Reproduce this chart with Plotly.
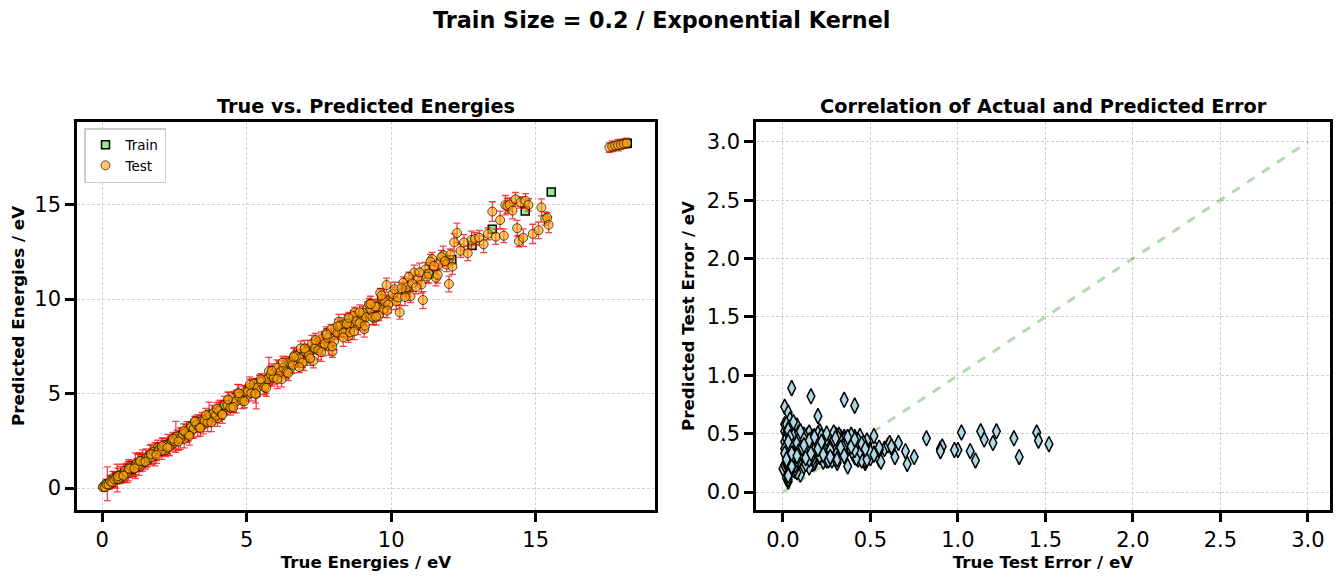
import plotly.graph_objects as go

# ---- data ----
train_true = [0.5, 1.2, 2.0, 2.8, 3.5, 4.3, 5.1, 5.9, 6.6, 7.4, 8.2, 9.0, 9.7,
              10.5, 11.3, 12.1, 12.8, 13.50, 14.64, 15.54, 18.17]
train_pred = [0.52, 1.19, 2.03, 2.78, 3.52, 4.28, 5.13, 5.88, 6.63, 7.38, 8.24, 8.97, 9.73,
              10.48, 11.33, 12.08, 12.83, 13.70, 14.66, 15.66, 18.25]

# test set, first sweep (whole range, incl. outliers and the high-energy cluster)
test_true_a = [
    0.04, 0.08, 0.12, 0.18, 0.25, 0.31, 0.38, 0.45, 0.52, 0.60, 0.68, 0.75, 0.83, 0.91, 0.98,
    1.06, 1.15, 1.23, 1.31, 1.40, 1.48, 1.57, 1.66, 1.74, 1.83, 1.92, 2.01, 2.10, 2.19, 2.28,
    2.37, 2.46, 2.55, 2.65, 2.74, 2.84, 2.93, 3.03, 3.12, 3.22, 3.31, 3.41, 3.50, 3.60, 3.70,
    3.80, 3.89, 3.99, 4.09, 4.19, 4.29, 4.39, 4.49, 4.59, 4.69, 4.80, 4.90,
    5.00, 5.11, 5.22, 5.33, 5.44, 5.55, 5.66, 5.77, 5.88, 5.99, 6.10, 6.21, 6.32, 6.43, 6.54,
    6.65, 6.76, 6.87, 6.98, 7.09, 7.20, 7.31, 7.42, 7.53, 7.64, 7.75, 7.86, 7.97, 8.08, 8.19,
    8.30, 8.41, 8.52, 8.63, 8.74, 8.85, 8.96, 9.07, 9.18, 9.29, 9.40, 9.51, 9.62, 9.73, 9.84, 9.95,
    10.05, 10.18, 10.30, 10.42, 10.55, 10.67, 10.80, 10.92, 11.05, 11.10, 11.18, 11.30, 11.42,
    11.55, 11.67, 11.80, 11.92, 12.00, 12.05, 12.18, 12.28, 12.40, 12.52, 12.65, 12.78, 12.90,
    13.05, 13.20, 13.35, 13.50, 13.62, 13.77, 13.90, 13.95, 14.02, 14.10, 14.20, 14.30, 14.36,
    14.42, 14.48, 14.57, 14.65, 14.75, 14.90, 15.10, 15.20, 15.33, 15.40, 15.45,
    17.55, 17.65, 17.75, 17.85, 17.95, 18.05, 18.15,
]
test_pred_a = [
    0.07, 0.06, 0.22, 0.23, 0.17, 0.33, 0.53, 0.41, 0.53, 0.67, 0.56, 0.79, 0.92, 0.90, 1.16,
    1.00, 1.18, 1.34, 1.16, 1.46, 1.48, 1.48, 1.79, 1.76, 1.79, 2.14, 1.98, 2.18, 2.00, 2.33,
    2.38, 2.35, 2.71, 2.63, 2.81, 2.59, 2.97, 3.15, 3.06, 3.50, 3.30, 3.50, 3.36, 3.63, 3.90,
    3.73, 3.99, 3.69, 4.15, 4.33, 4.26, 4.63, 4.32, 4.61, 5.02, 4.72, 5.01,
    4.88, 5.32, 5.26, 4.98, 5.59, 5.63, 5.44, 6.18, 5.90, 5.90, 6.37, 5.76, 6.43, 6.48, 6.36,
    7.01, 6.72, 7.39, 6.70, 7.22, 7.27, 6.73, 7.66, 7.54, 7.49, 8.19, 7.49, 7.22, 8.27, 8.81,
    8.24, 8.71, 8.04, 8.73, 9.29, 8.64, 8.99, 8.41, 9.53, 9.46, 9.00, 9.59, 10.33, 9.47, 10.74, 9.83,
    10.27, 9.87, 9.30, 10.87, 10.63, 10.15, 11.40, 11.04, 10.77, 9.95, 11.56, 11.35, 12.12,
    11.13, 11.85, 12.32, 11.82, 10.80, 12.36, 13.00, 13.50, 12.55, 13.00, 12.43, 13.13, 13.18,
    13.25, 12.90, 13.45, 14.63, 13.30, 14.18, 13.35, 14.97, 14.93, 15.00, 14.68, 15.28, 13.75,
    13.07, 15.12, 13.25, 15.20, 14.98, 13.45, 13.64, 14.85, 14.26, 14.30, 13.93,
    18.02, 18.08, 18.12, 18.15, 18.18, 18.22, 18.25,
]
test_std_a = [
    0.09, 0.12, 0.15, 0.89, 0.22, 0.30, 0.35, 0.41, 0.73, 0.18, 0.27, 0.48, 0.33, 0.52, 0.25,
    0.38, 0.68, 0.44, 0.29, 0.56, 0.20, 0.36, 0.47, 0.31, 0.62, 0.39, 0.26, 0.45, 0.34, 0.51,
    0.23, 0.40, 0.82, 0.28, 0.37, 0.46, 0.55, 0.32, 0.43, 0.27, 0.58, 0.35, 0.49, 0.24, 0.65,
    0.38, 0.30, 0.42, 0.50, 0.29, 0.36, 0.44, 0.33, 0.40, 0.47, 0.26, 0.38,
    0.31, 0.45, 0.28, 0.79, 0.38, 0.33, 0.42, 0.74, 0.50, 0.27, 0.36, 0.40, 0.35, 0.47, 0.30,
    0.44, 0.26, 0.39, 0.48, 0.32, 0.55, 0.37, 0.29, 0.43, 0.51, 0.34, 0.46, 0.30, 0.41, 0.38,
    0.25, 0.49, 0.33, 0.45, 0.28, 0.52, 0.36, 0.42, 0.31, 0.47, 0.35, 0.40, 0.24, 0.44, 0.37, 0.39,
    0.36, 0.42, 0.36, 0.30, 0.47, 0.33, 0.40, 0.28, 0.45, 0.45, 0.38, 0.50, 0.35,
    0.43, 0.31, 0.48, 0.37, 0.42, 0.29, 0.46, 0.52, 0.34, 0.41, 0.39, 0.47, 0.33,
    0.38, 0.44, 0.31, 0.52, 0.40, 0.47, 0.36, 0.51, 0.39, 0.35, 0.44, 0.36, 0.42,
    0.30, 0.30, 0.46, 0.38, 0.33, 0.51, 0.44, 0.45, 0.35, 0.27, 0.41,
    0.25, 0.28, 0.22, 0.30, 0.26, 0.24, 0.27,
]

# test set, second sweep (0 - 5 eV, tight band)
test_true_b = [
    0.02, 0.10, 0.15, 0.22, 0.28, 0.35, 0.42, 0.49, 0.56, 0.64, 0.71, 0.79, 0.87, 0.95, 1.02,
    1.10, 1.19, 1.27, 1.35, 1.44, 1.52, 1.61, 1.70, 1.79, 1.88, 1.97, 2.06, 2.15, 2.24, 2.33,
    2.42, 2.51, 2.60, 2.70, 2.79, 2.89, 2.98, 3.08, 3.17, 3.27, 3.36, 3.46, 3.55, 3.65, 3.75,
    3.85, 3.94, 4.04, 4.14, 4.24, 4.34, 4.44, 4.54, 4.64, 4.75, 4.85, 4.95,
]
test_pred_b = [
    0.05, 0.04, 0.20, 0.19, 0.36, 0.30, 0.47, 0.55, 0.48, 0.70, 0.69, 0.91, 0.81, 0.99, 1.09,
    1.02, 1.28, 1.25, 1.45, 1.37, 1.60, 1.64, 1.62, 1.92, 1.85, 2.02, 1.96, 2.27, 2.25, 2.21,
    2.51, 2.47, 2.74, 2.62, 2.85, 2.91, 2.84, 3.25, 3.14, 3.35, 3.21, 3.57, 3.56, 3.47, 3.84,
    3.98, 3.83, 4.07, 3.93, 4.40, 4.39, 4.25, 4.75, 4.58, 4.83, 4.62, 5.11,
]
test_std_b = [
    0.11, 0.19, 0.26, 0.14, 0.33, 0.21, 0.40, 0.28, 0.17, 0.45, 0.24, 0.36, 0.52, 0.30, 0.20,
    0.42, 0.27, 0.58, 0.34, 0.23, 0.47, 0.31, 0.39, 0.25, 0.54, 0.29, 0.44, 0.22, 0.37, 0.49,
    0.26, 0.41, 0.32, 0.57, 0.24, 0.46, 0.35, 0.28, 0.50, 0.38, 0.21, 0.43, 0.33, 0.48, 0.27,
    0.40, 0.36, 0.53, 0.30, 0.45, 0.25, 0.39, 0.34, 0.60, 0.28, 0.42, 0.31,
]

# test set, third sweep (5 - 12 eV, wider band)
test_true_c = [
    5.05, 5.16, 5.27, 5.38, 5.50, 5.61, 5.72, 5.83, 5.94, 6.05, 6.16, 6.27, 6.38, 6.49, 6.60,
    6.71, 6.82, 6.93, 7.04, 7.15, 7.26, 7.37, 7.48, 7.59, 7.70, 7.81, 7.92, 8.03, 8.14, 8.25,
    8.36, 8.47, 8.58, 8.69, 8.80, 8.91, 9.02, 9.13, 9.24, 9.35, 9.46, 9.57, 9.68, 9.79, 9.90,
    10.12, 10.24, 10.36, 10.48, 10.61, 10.73, 10.86, 10.98, 11.24, 11.36, 11.48, 11.61, 11.74,
    11.86, 12.12,
]
test_pred_c = [
    5.13, 5.02, 5.52, 5.32, 5.62, 5.33, 5.77, 6.02, 5.83, 6.38, 6.14, 6.36, 6.14, 6.65, 6.52,
    6.98, 6.86, 6.62, 7.22, 7.03, 7.64, 7.39, 7.28, 7.89, 7.63, 7.95, 8.39, 7.78, 8.22, 8.61,
    8.23, 8.69, 8.24, 9.10, 8.83, 8.73, 9.28, 9.04, 9.74, 9.06, 9.60, 9.12, 10.00, 9.85, 9.71,
    10.52, 10.09, 10.57, 10.11, 11.17, 10.83, 10.63, 11.42, 11.19, 11.98, 11.75, 11.28, 12.22,
    12.01, 11.72,
]
test_std_c = [
    0.34, 0.41, 0.27, 0.48, 0.30, 0.38, 0.22, 0.45, 0.33, 0.40, 0.26, 0.51, 0.36, 0.29, 0.43,
    0.32, 0.47, 0.25, 0.39, 0.35, 0.44, 0.28, 0.50, 0.37, 0.31, 0.42, 0.27, 0.46, 0.34, 0.40,
    0.24, 0.48, 0.36, 0.30, 0.43, 0.38, 0.33, 0.45, 0.29, 0.41, 0.35, 0.27, 0.49, 0.32, 0.44,
    0.37, 0.40, 0.31, 0.46, 0.26, 0.42, 0.35, 0.48, 0.33, 0.39, 0.30, 0.44, 0.36, 0.28, 0.41,
]

# test set, fourth sweep (0.5 - 10 eV, points on both edges of the band)
test_true_d = [
    0.55, 0.74, 0.93, 1.12, 1.31, 1.50, 1.69, 1.88, 2.07, 2.26, 2.45, 2.64, 2.83, 3.02, 3.21,
    3.40, 3.59, 3.78, 3.97, 4.16, 4.35, 4.54, 4.73, 4.92, 5.11, 5.30, 5.49, 5.68, 5.87, 6.06,
    6.25, 6.44, 6.63, 6.82, 7.01, 7.20, 7.39, 7.58, 7.77, 7.96, 8.15, 8.34, 8.53, 8.72, 8.91,
    9.10, 9.29, 9.48, 9.67, 9.86,
]
test_pred_d = [
    0.63, 0.65, 1.03, 1.04, 1.43, 1.39, 1.79, 1.75, 2.22, 2.14, 2.61, 2.46, 3.03, 2.77, 3.52,
    3.18, 3.86, 3.48, 4.20, 3.88, 4.69, 4.28, 5.02, 4.59, 5.47, 4.99, 5.76, 5.30, 6.20, 5.77,
    6.65, 6.09, 6.93, 6.40, 7.38, 6.87, 7.83, 7.19, 8.12, 7.50, 8.56, 7.97, 9.01, 8.29, 9.30,
    8.60, 9.74, 9.07, 10.19, 9.39,
]
test_std_d = [
    0.42, 0.35, 0.48, 0.31, 0.45, 0.38, 0.52, 0.29, 0.44, 0.40, 0.33, 0.47, 0.37, 0.50, 0.28,
    0.43, 0.36, 0.49, 0.32, 0.46, 0.39, 0.27, 0.45, 0.34, 0.41, 0.48, 0.30, 0.44, 0.37, 0.51,
    0.33, 0.40, 0.46, 0.29, 0.43, 0.38, 0.35, 0.49, 0.31, 0.42, 0.36, 0.47, 0.28, 0.44, 0.39,
    0.34, 0.41, 0.45, 0.32, 0.37,
]

test_true = test_true_a + test_true_b + test_true_c + test_true_d
test_pred = test_pred_a + test_pred_b + test_pred_c + test_pred_d
test_std = test_std_a + test_std_b + test_std_c + test_std_d

# actual error of each test point vs. the model's own uncertainty
test_abs_err = [abs(p - t) for t, p in zip(test_true, test_pred)]

ideal_line = [0, 3]

FONT = "DejaVu Sans"
W, H = 1344, 581
OFF = 8  # page body margin, the figure sits 8px in from the window corner
# plot area in screenshot pixels (left, right, top, bottom)
L, R, T, B = 77, 1330, 122, 510

fig = go.Figure()

fig.add_trace(go.Scatter(
    x=train_true, y=train_pred, mode="markers", name="Train",
    marker=dict(symbol="square", size=8, color="#90EE90",
                line=dict(color="black", width=1.5)),
    xaxis="x", yaxis="y",
))
fig.add_trace(go.Scatter(
    x=test_true, y=test_pred, mode="markers", name="Test",
    error_y=dict(type="data", array=test_std, color="rgba(255,0,0,0.75)",
                 thickness=1.3, width=3.5),
    marker=dict(symbol="circle", size=9, color="rgba(255,165,0,0.6)",
                line=dict(color="rgba(0,0,0,0.65)", width=1)),
    xaxis="x", yaxis="y",
))

fig.add_trace(go.Scatter(
    x=ideal_line, y=ideal_line, mode="lines", showlegend=False,
    line=dict(color="rgba(0,128,0,0.3)", width=3, dash="dash"),
    xaxis="x2", yaxis="y2",
))
fig.add_trace(go.Scatter(
    x=test_abs_err, y=test_std, mode="markers", showlegend=False,
    marker=dict(symbol="diamond-tall", size=11, color="#ADD8E6",
                line=dict(color="black", width=1.5)),
    xaxis="x2", yaxis="y2",
))

axis_style = dict(
    showline=True, linecolor="black", linewidth=2.5, mirror=True,
    ticks="outside", ticklen=9, tickwidth=2.5, tickcolor="black",
    tickfont=dict(family=FONT, size=21, color="black"),
    showgrid=True, gridcolor="#d0d0d0", gridwidth=0.8, griddash="3px,2px",
    zeroline=False,
)
title_font = dict(family=FONT, size=16.7, color="black")


def px_x(p):
    return (p - L) / (R - L)


def px_y(p):
    return (B - p) / (B - T)


fig.update_layout(
    width=W, height=H,
    margin=dict(l=L - OFF, r=W - R + OFF, t=T - OFF, b=H - B + OFF, autoexpand=False),
    plot_bgcolor="white", paper_bgcolor="white",
    font=dict(family=FONT, color="black"),
    xaxis=dict(axis_style, domain=[0, px_x(655)], range=[-0.87, 19.13], dtick=5,
               title=dict(text="<b>True Energies / eV</b>", font=title_font, standoff=6),
               anchor="y"),
    yaxis=dict(axis_style, domain=[0, 1], range=[-1.16, 19.37], dtick=5,
               title=dict(text="<b>Predicted Energies / eV</b>", font=title_font, standoff=8),
               anchor="x"),
    xaxis2=dict(axis_style, domain=[px_x(756), 1], range=[-0.154, 3.126], dtick=0.5,
                tickformat=".1f",
                title=dict(text="<b>True Test Error / eV</b>", font=title_font, standoff=6),
                anchor="y2"),
    yaxis2=dict(axis_style, domain=[0, 1], range=[-0.154, 3.17], dtick=0.5,
                tickformat=".1f",
                title=dict(text="<b>Predicted Test Error / eV</b>", font=title_font, standoff=8),
                anchor="x2"),
    legend=dict(x=px_x(84), y=px_y(128), xanchor="left", yanchor="top",
                bgcolor="white", bordercolor="#cccccc", borderwidth=1.5,
                font=dict(family=FONT, size=13.5, color="black")),
    annotations=[
        dict(text="<b>Train Size = 0.2 / Exponential Kernel</b>", x=px_x(661), y=px_y(20),
             xanchor="center", yanchor="middle",
             xref="paper", yref="paper", showarrow=False,
             font=dict(family=FONT, size=22.3, color="black")),
        dict(text="<b>True vs. Predicted Energies</b>", x=px_x(366), y=px_y(107),
             xanchor="center", yanchor="middle",
             xref="paper", yref="paper", showarrow=False,
             font=dict(family=FONT, size=19.3, color="black")),
        dict(text="<b>Correlation of Actual and Predicted Error</b>", x=px_x(1043), y=px_y(107),
             xanchor="center", yanchor="middle",
             xref="paper", yref="paper", showarrow=False,
             font=dict(family=FONT, size=19.3, color="black")),
    ],
)

fig.write_html("out.html")
